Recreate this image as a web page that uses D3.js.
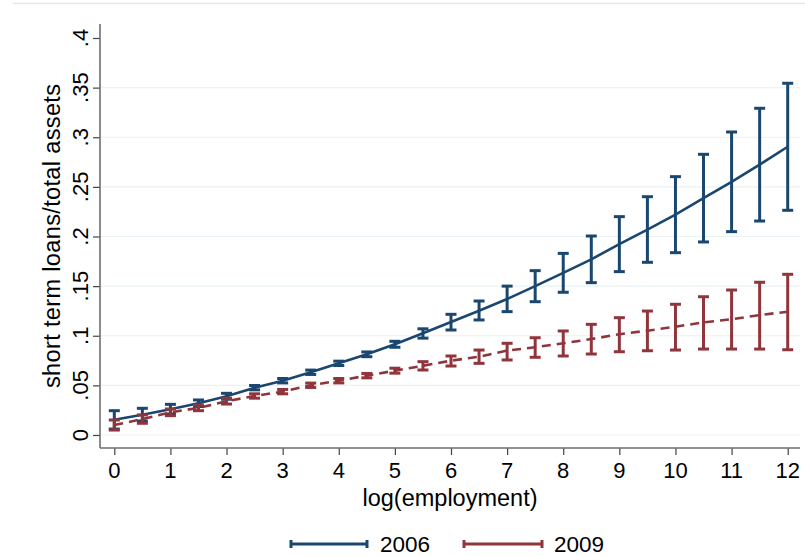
<!DOCTYPE html>
<html>
<head>
<meta charset="utf-8">
<script src="https://cdn.jsdelivr.net/npm/d3@7/dist/d3.min.js"></script>
<style>
  html, body { margin: 0; padding: 0; background: #fff; }
  svg { display: block; }
  text { font-family: "Liberation Sans", Arial, Helvetica, sans-serif; fill: #000; }
</style>
</head>
<body>
<svg id="chart" width="805" height="556"></svg>
<script>
// ---- data ----
const logEmployment = [0,0.5,1,1.5,2,2.5,3,3.5,4,4.5,5,5.5,6,6.5,7,7.5,8,8.5,9,9.5,10,10.5,11,11.5,12];

const est2006 = [0.0153,0.0205,0.0260,0.0320,0.0390,0.0477,0.0547,0.0632,0.0722,0.0813,0.0914,0.1025,0.1139,0.1252,0.1370,0.1500,0.1634,0.1770,0.1923,0.2070,0.2220,0.2387,0.2551,0.2724,0.2904];
const lo2006  = [0.0060,0.0141,0.0212,0.0287,0.0360,0.0455,0.0525,0.0610,0.0700,0.0789,0.0884,0.0976,0.1058,0.1159,0.1243,0.1343,0.1438,0.1535,0.1646,0.1740,0.1837,0.1945,0.2049,0.2156,0.2264];
const hi2006  = [0.0245,0.0269,0.0309,0.0353,0.0420,0.0499,0.0569,0.0654,0.0744,0.0837,0.0944,0.1070,0.1216,0.1350,0.1500,0.1656,0.1830,0.2005,0.2200,0.2401,0.2603,0.2828,0.3053,0.3292,0.3544];

const est2009 = [0.0100,0.0160,0.0228,0.0273,0.0340,0.0393,0.0437,0.0501,0.0547,0.0598,0.0648,0.0698,0.0749,0.0789,0.0850,0.0884,0.0924,0.0967,0.1015,0.1051,0.1091,0.1135,0.1166,0.1209,0.1242];
const lo2009  = [0.0050,0.0118,0.0195,0.0245,0.0312,0.0371,0.0415,0.0479,0.0525,0.0576,0.0623,0.0655,0.0695,0.0722,0.0756,0.0783,0.0796,0.0816,0.0839,0.0849,0.0856,0.0866,0.0866,0.0866,0.0859];
const hi2009  = [0.0151,0.0202,0.0262,0.0302,0.0370,0.0415,0.0459,0.0523,0.0569,0.0620,0.0673,0.0739,0.0796,0.0856,0.0924,0.0980,0.1048,0.1115,0.1182,0.1249,0.1317,0.1393,0.1461,0.1539,0.1619];

const yTicks = [0,0.05,0.1,0.15,0.2,0.25,0.3,0.35,0.4];
const yTickLabels = ["0",".05",".1",".15",".2",".25",".3",".35",".4"];
const xTicks = [0,1,2,3,4,5,6,7,8,9,10,11,12];
const seriesNames = ["2006","2009"];
const xTitle = "log(employment)";
const yTitle = "short term loans/total assets";

// ---- layout ----
const svg = d3.select("#chart");
const box = {left: 100, right: 800, top: 24, bottom: 448};
const x = d3.scaleLinear().domain([0, 12]).range([box.left + 14.3, box.right - 12.3]);
const y = d3.scaleLinear().domain([0, 0.4]).range([box.bottom - 13, box.top + 14]);

const blue = "#1a476f", red = "#90353b";

// faint outer frame line at top
svg.append("line").attr("x1", 13).attr("x2", 805).attr("y1", 3.5).attr("y2", 3.5)
  .attr("stroke", "#e6e6e6").attr("stroke-width", 1.5);

// gridlines
svg.append("g").selectAll("line").data(yTicks.filter(t => t < 0.4)).join("line")
  .attr("x1", box.left).attr("x2", box.right)
  .attr("y1", d => y(d)).attr("y2", d => y(d))
  .attr("stroke", "#eaf2f3").attr("stroke-width", 1.2);

// axes
const yAxis = d3.axisLeft(y).tickValues(yTicks).tickSize(7).tickFormat("");
const gy = svg.append("g").attr("transform", `translate(${box.left},0)`).call(yAxis);
gy.select(".domain").remove();
gy.selectAll(".tick line").attr("stroke", "#444").attr("stroke-width", 1.2);

const xAxis = d3.axisBottom(x).tickValues(xTicks).tickSize(7).tickFormat("");
const gx = svg.append("g").attr("transform", `translate(0,${box.bottom})`).call(xAxis);
gx.select(".domain").remove();
gx.selectAll(".tick line").attr("stroke", "#444").attr("stroke-width", 1.2);

svg.append("line").attr("x1", box.left).attr("x2", box.left).attr("y1", box.top).attr("y2", box.bottom)
  .attr("stroke", "#6e6e6e").attr("stroke-width", 1.6);
svg.append("line").attr("x1", box.left).attr("x2", box.right).attr("y1", box.bottom).attr("y2", box.bottom)
  .attr("stroke", "#6e6e6e").attr("stroke-width", 1.6);

// tick labels
svg.append("g").selectAll("text").data(yTicks).join("text")
  .attr("transform", (d) => `translate(88,${y(d)}) rotate(-90)`)
  .attr("text-anchor", "middle").attr("font-size", 22)
  .text((d, i) => yTickLabels[i]);

svg.append("g").selectAll("text").data(xTicks).join("text")
  .attr("x", d => x(d)).attr("y", 478)
  .attr("text-anchor", "middle").attr("font-size", 22)
  .text(d => String(d));

// titles
svg.append("text").attr("x", (box.left + box.right) / 2).attr("y", 506)
  .attr("text-anchor", "middle").attr("font-size", 23.5).text(xTitle);
svg.append("text").attr("transform", `translate(60,${(box.top + box.bottom) / 2}) rotate(-90)`)
  .attr("text-anchor", "middle").attr("font-size", 23.5).attr("textLength", 304).text(yTitle);

// series
function drawSeries(est, lo, hi, color, dash) {
  const g = svg.append("g");
  const idx = d3.range(logEmployment.length);
  const cap = 5.5;
  g.selectAll("line.v").data(idx).join("line").attr("class", "v")
    .attr("x1", i => x(logEmployment[i])).attr("x2", i => x(logEmployment[i]))
    .attr("y1", i => y(lo[i])).attr("y2", i => y(hi[i]))
    .attr("stroke", color).attr("stroke-width", 3);
  g.selectAll("line.ct").data(idx).join("line").attr("class", "ct")
    .attr("x1", i => x(logEmployment[i]) - cap).attr("x2", i => x(logEmployment[i]) + cap)
    .attr("y1", i => y(hi[i])).attr("y2", i => y(hi[i]))
    .attr("stroke", color).attr("stroke-width", 3);
  g.selectAll("line.cb").data(idx).join("line").attr("class", "cb")
    .attr("x1", i => x(logEmployment[i]) - cap).attr("x2", i => x(logEmployment[i]) + cap)
    .attr("y1", i => y(lo[i])).attr("y2", i => y(lo[i]))
    .attr("stroke", color).attr("stroke-width", 3);
  const line = d3.line().x(i => x(logEmployment[i])).y(i => y(est[i]));
  g.append("path").attr("d", line(idx)).attr("fill", "none")
    .attr("stroke", color).attr("stroke-width", 2.6)
    .attr("stroke-dasharray", dash || null);
}
drawSeries(est2006, lo2006, hi2006, blue, null);
drawSeries(est2009, lo2009, hi2009, red, "9,6");

// legend
const legend = [
  {name: seriesNames[0], color: blue, x1: 291, x2: 367, tx: 380},
  {name: seriesNames[1], color: red, x1: 464, x2: 542, tx: 554}
];
const lg = svg.append("g");
legend.forEach(l => {
  lg.append("line").attr("x1", l.x1).attr("x2", l.x2).attr("y1", 544).attr("y2", 544)
    .attr("stroke", l.color).attr("stroke-width", 3);
  [l.x1, l.x2].forEach(cx => lg.append("line").attr("x1", cx).attr("x2", cx)
    .attr("y1", 540).attr("y2", 548).attr("stroke", l.color).attr("stroke-width", 3));
  lg.append("text").attr("x", l.tx).attr("y", 551.5).attr("font-size", 22.5).text(l.name);
});
</script>
</body>
</html>
